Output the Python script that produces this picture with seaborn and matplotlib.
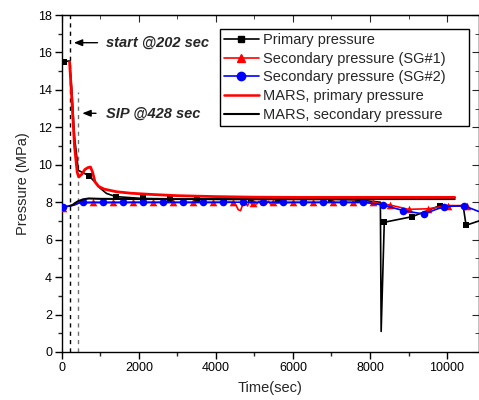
#!/usr/bin/env python3

import matplotlib
matplotlib.use("Agg")
import matplotlib.pyplot as plt
from matplotlib.lines import Line2D
from matplotlib.ticker import MultipleLocator
import seaborn as sns

# Experimental primary pressure (black line with squares)
prim_t = [0, 50, 202, 260, 330, 430, 700, 850, 990, 1160, 1400, 2100, 2800,
          3500, 4200, 4900, 5600, 6300, 7000, 7700, 8270, 8290, 8371, 9100,
          9818, 10420, 10494, 10830]
prim_p = [15.5, 15.5, 15.55, 14.0, 11.5, 9.7, 9.42, 9.1, 8.76, 8.47, 8.3,
          8.2, 8.18, 8.16, 8.15, 8.15, 8.15, 8.15, 8.15, 8.12, 8.0, 1.1,
          6.93, 7.23, 7.82, 7.8, 6.77, 7.0]
prim_mark_t = [50, 700, 1400, 2100, 2800, 3500, 4200, 4900, 5600, 6300, 7000,
               7700, 8371, 9100, 9818, 10494]
prim_mark_p = [15.5, 9.42, 8.3, 8.2, 8.18, 8.16, 8.15, 8.15, 8.15, 8.15,
               8.15, 8.12, 6.93, 7.23, 7.82, 6.77]

# Secondary pressure SG#1 (red line with triangles)
sg1_t = [0, 202, 430, 800, 1320, 1840, 2360, 2880, 3400, 3920, 4440, 4520,
         4580, 4640, 4700, 4760, 4820, 4880, 4940, 5000, 5060, 5120, 5180,
         5240, 5300, 5360, 5420, 5480, 5560, 6000, 6520, 7040, 7560, 8080,
         8520, 9000, 9510, 10020, 10510]
sg1_p = [7.7, 7.8, 7.95, 7.97, 7.97, 7.98, 7.98, 7.98, 7.98, 7.98, 8.0,
         7.85, 7.6, 7.55, 7.9, 8.05, 7.8, 8.05, 7.85, 8.05, 7.9, 8.05, 7.85,
         8.0, 7.9, 8.05, 7.9, 8.0, 7.95, 7.98, 7.98, 7.98, 7.98, 7.98, 7.85,
         7.62, 7.65, 7.82, 7.82]
sg1_mark_t = [20, 800, 1320, 1840, 2360, 2880, 3400, 3920, 4440, 4960, 5480,
              6000, 6520, 7040, 7560, 8080, 8520, 9000, 9510, 10020, 10510]
sg1_mark_p = [7.7, 7.99, 7.99, 8.0, 8.0, 8.0, 8.0, 8.0, 8.0, 7.97,
              8.0, 8.0, 8.0, 8.0, 8.0, 8.0, 7.85, 7.62, 7.65, 7.82,
              7.82]

# Secondary pressure SG#2 (blue line with circles)
sg2_t = [30, 202, 330, 470, 550, 1070, 1590, 2110, 2630, 3150, 3670, 4190,
         4710, 5230, 5750, 6270, 6790, 7310, 7830, 8350, 8870, 9390, 9910,
         10430, 10830]
sg2_p = [7.76, 7.8, 7.85, 7.98, 8.0, 8.0, 8.0, 8.0, 8.0, 8.0, 8.0, 8.0,
         8.0, 8.0, 8.0, 8.0, 8.0, 8.0, 8.0, 7.85, 7.55, 7.37, 7.76, 7.82,
         7.5]
sg2_mark_t = sg2_t[:1] + sg2_t[4:-1]
sg2_mark_p = sg2_p[:1] + sg2_p[4:-1]

# MARS calculation, primary pressure (red)
mars_p_t = [202, 260, 330, 400, 440, 520, 600, 680, 745, 800, 860, 950,
            1100, 1420, 1800, 2285, 3000, 4000, 5000, 6000, 7000, 8000,
            9000, 10200]
mars_p_p = [15.5, 13.5, 11.0, 9.6, 9.35, 9.5, 9.75, 9.85, 9.88, 9.6, 9.1,
            8.85, 8.7, 8.56, 8.48, 8.42, 8.35, 8.3, 8.27, 8.26, 8.26, 8.26,
            8.26, 8.26]

# MARS calculation, secondary pressure (black)
mars_s_t = [202, 280, 340, 420, 550, 700, 1000, 2000, 4000, 6000, 8000,
            10200]
mars_s_p = [7.8, 7.85, 7.95, 8.05, 8.15, 8.2, 8.18, 8.17, 8.17, 8.17, 8.17,
            8.17]

sns.set_style("ticks")
plt.rcParams['font.family'] = ['Liberation Sans', 'DejaVu Sans']

fig = plt.figure(figsize=(4.79, 4.0), dpi=100)
ax = fig.add_axes([0.129, 0.12, 0.871, 0.8425])

# Start / SIP markers
ax.axvline(202, color="black", lw=1, ls=(0, (3, 3)), zorder=1)
ax.plot([428, 428], [0, 13.9], color="0.45", lw=1, ls=(0, (3, 3)), zorder=1)

sns.lineplot(x=prim_t, y=prim_p, color="black", lw=1.2, sort=False,
             estimator=None, ax=ax, zorder=2)
sns.scatterplot(x=prim_mark_t, y=prim_mark_p, color="black", marker="s",
                s=25, linewidth=0, ax=ax, zorder=2)

sns.lineplot(x=sg1_t, y=sg1_p, color="red", lw=1.2, sort=False,
             estimator=None, ax=ax, zorder=3)
sns.scatterplot(x=sg1_mark_t, y=sg1_mark_p, color="red", marker="^",
                s=30, linewidth=0, ax=ax, zorder=3)

sns.lineplot(x=sg2_t, y=sg2_p, color="blue", lw=1.2, sort=False,
             estimator=None, ax=ax, zorder=4)
sns.scatterplot(x=sg2_mark_t, y=sg2_mark_p, color="blue", marker="o",
                s=30, linewidth=0, ax=ax, zorder=4)

sns.lineplot(x=mars_s_t, y=mars_s_p, color="black", lw=1.5, sort=False,
             estimator=None, ax=ax, zorder=5)
sns.lineplot(x=mars_p_t, y=mars_p_p, color="red", lw=2, sort=False,
             estimator=None, ax=ax, zorder=5)

# Annotations
arrow = dict(arrowstyle="-|>,head_length=0.5,head_width=0.2",
             color="black", lw=1)
ax.annotate("", xy=(240, 16.52), xytext=(1000, 16.52), arrowprops=arrow)
ax.text(1160, 16.52, "start @202 sec", fontsize=10.5, fontweight="bold",
        style="italic", va="center", ha="left")
ax.annotate("", xy=(460, 12.75), xytext=(960, 12.75), arrowprops=arrow)
ax.text(1140, 12.75, "SIP @428 sec", fontsize=10.5, fontweight="bold",
        style="italic", va="center", ha="left")

ax.set_xlim(0, 10830)
ax.set_ylim(0, 18)
ax.xaxis.set_major_locator(MultipleLocator(2000))
ax.xaxis.set_minor_locator(MultipleLocator(1000))
ax.yaxis.set_major_locator(MultipleLocator(2))
ax.yaxis.set_minor_locator(MultipleLocator(1))
ax.tick_params(which="major", direction="out", length=5, width=1,
               labelsize=9, colors="black", pad=2)
ax.tick_params(which="minor", direction="out", length=3, width=1)
for sp in ax.spines.values():
    sp.set_visible(True)
    sp.set_linewidth(1)
    sp.set_color("black")

# Inward ticks on top and right
top = ax.secondary_xaxis("top")
top.xaxis.set_major_locator(MultipleLocator(2000))
top.xaxis.set_minor_locator(MultipleLocator(1000))
top.tick_params(which="major", direction="in", length=5, labeltop=False)
top.tick_params(which="minor", direction="in", length=3)
right = ax.secondary_yaxis("right")
right.yaxis.set_major_locator(MultipleLocator(2))
right.yaxis.set_minor_locator(MultipleLocator(1))
right.tick_params(which="major", direction="in", length=5, labelright=False)
right.tick_params(which="minor", direction="in", length=3)

ax.set_xlabel("Time(sec)", fontsize=10.5, labelpad=5)
ax.set_ylabel("Pressure (MPa)", fontsize=10.5, labelpad=6)

handles = [
    Line2D([], [], color="black", lw=1.2, marker="s", markersize=5),
    Line2D([], [], color="red", lw=1.2, marker="^", markersize=6),
    Line2D([], [], color="blue", lw=1.2, marker="o", markersize=6),
    Line2D([], [], color="red", lw=1.8),
    Line2D([], [], color="black", lw=1.5),
]
labels = ["Primary pressure", "Secondary pressure (SG#1)",
          "Secondary pressure (SG#2)", "MARS, primary pressure",
          "MARS, secondary pressure"]
leg = ax.legend(handles, labels, loc="upper left",
                bbox_to_anchor=(0.38, 0.5, 0.5955, 0.458), mode="expand",
                borderaxespad=0, fontsize=10.5, frameon=True, fancybox=False,
                framealpha=1, edgecolor="black", handlelength=2.4,
                handletextpad=0.25, borderpad=0.25, labelspacing=0.33)
leg.get_frame().set_linewidth(1)

fig.savefig("out.png", dpi=100)
